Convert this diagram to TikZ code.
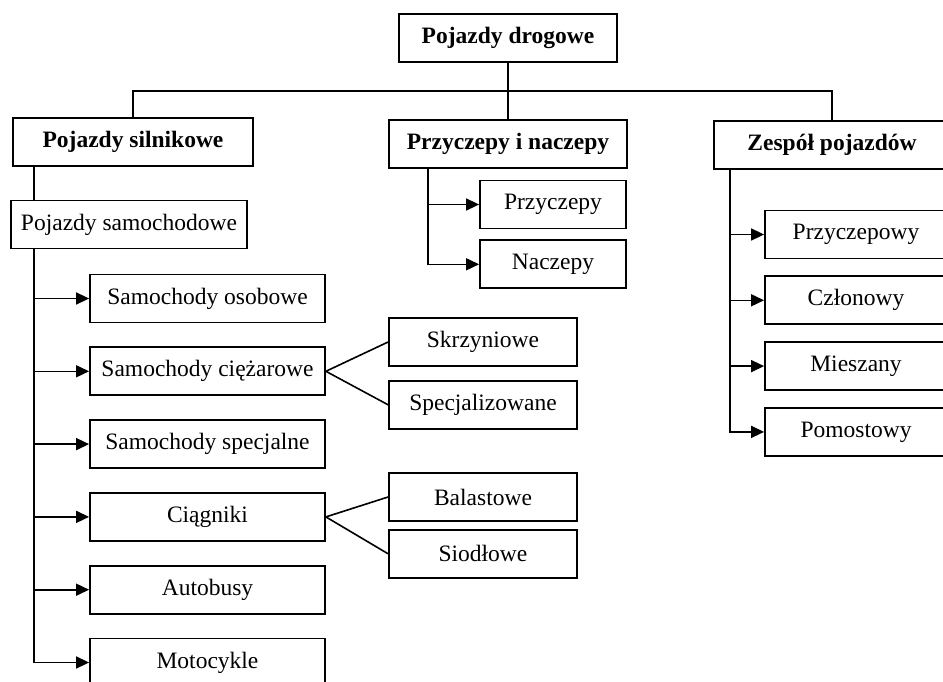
\documentclass[tikz,border=0pt]{standalone}
\usepackage{fontspec}
\setmainfont{Liberation Serif}
\usetikzlibrary{positioning,arrows.meta}

\tikzset{
  box/.style={draw, line width=1.8pt, minimum height=48pt, inner sep=0pt,
    font=\fontsize{23.5}{28}\selectfont},
  head/.style={box, font=\fontsize{23.5}{28}\selectfont\bfseries},
  link/.style={line width=1.6pt},
  arr/.style={link, -{Triangle[length=13pt,width=12pt]}}
}

\begin{document}
\begin{tikzpicture}[x=1pt,y=-1pt]
\clip (0,0) rectangle (943,682);
% main groups
\node[head, minimum width=218pt] (drogowe) at (508,38) {Pojazdy drogowe};
\node[head, minimum width=240pt] (silnikowe) at (133,142) {Pojazdy silnikowe};
\node[head, minimum width=238pt] (przyczepyn) at (508,144) {Przyczepy i naczepy};
\node[head, minimum width=236pt] (zespol) at (832,145) {Zespół pojazdów};
\coordinate (bar) at (508,91);
\draw[link] (drogowe.south) -- (przyczepyn.north);
\draw[link] (silnikowe.north) |- (bar) -| (zespol.north);

% pojazdy silnikowe
\node[box, minimum width=236pt] (samochodowe) at (129,224.5) {Pojazdy samochodowe};
\draw[link] ([xshift=22pt]silnikowe.south west) -- ([xshift=24pt]samochodowe.north west);
\node[box, minimum width=235pt] (osobowe) at (207.5,298.5) {Samochody osobowe};
\node[box, minimum width=235pt, below=23pt of osobowe] (ciezarowe) {Samochody ciężarowe};
\node[box, minimum width=235pt, below=23pt of ciezarowe] (specjalne) {Samochody specjalne};
\node[box, minimum width=235pt, below=23pt of specjalne] (ciagniki) {Ciągniki};
\node[box, minimum width=235pt, below=23pt of ciagniki] (autobusy) {Autobusy};
\node[box, minimum width=235pt, below=23pt of autobusy] (motocykle) {Motocykle};
\coordinate (ltrunk) at ([xshift=24pt]samochodowe.south west);
\draw[arr] (ltrunk) |- (osobowe.west);
\draw[arr] (ltrunk) |- (ciezarowe.west);
\draw[arr] (ltrunk) |- (specjalne.west);
\draw[arr] (ltrunk) |- (ciagniki.west);
\draw[arr] (ltrunk) |- (autobusy.west);
\draw[arr] (ltrunk) |- (motocykle.west);

\node[box, minimum width=188pt] (skrzyniowe) at (483,342) {Skrzyniowe};
\node[box, minimum width=188pt, below=13pt of skrzyniowe] (specjalizowane) {Specjalizowane};
\node[box, minimum width=188pt] (balastowe) at (483,497) {Balastowe};
\node[box, minimum width=188pt, below=7pt of balastowe] (siodlowe) {Siodłowe};
\draw[link] (skrzyniowe.west) -- (ciezarowe.east) -- (specjalizowane.west);
\draw[link] (balastowe.west) -- (ciagniki.east) -- (siodlowe.west);

% przyczepy i naczepy
\node[box, minimum width=146pt] (przyczepy) at (553,204.5) {Przyczepy};
\node[box, minimum width=146pt, below=10pt of przyczepy] (naczepy) {Naczepy};
\coordinate (mtrunk) at ([xshift=40pt]przyczepyn.south west);
\draw[arr] (mtrunk) |- (przyczepy.west);
\draw[arr] (mtrunk) |- (naczepy.west);

% zespol pojazdow
\node[box, minimum width=182pt] (przyczepowy) at (856,234.5) {Przyczepowy};
\node[box, minimum width=182pt, below=16pt of przyczepowy] (czlonowy) {Członowy};
\node[box, minimum width=182pt, below=16pt of czlonowy] (mieszany) {Mieszany};
\node[box, minimum width=182pt, below=16pt of mieszany] (pomostowy) {Pomostowy};
\coordinate (rtrunk) at ([xshift=17pt]zespol.south west);
\draw[arr] (rtrunk) |- (przyczepowy.west);
\draw[arr] (rtrunk) |- (czlonowy.west);
\draw[arr] (rtrunk) |- (mieszany.west);
\draw[arr] (rtrunk) |- (pomostowy.west);
\end{tikzpicture}
\end{document}
